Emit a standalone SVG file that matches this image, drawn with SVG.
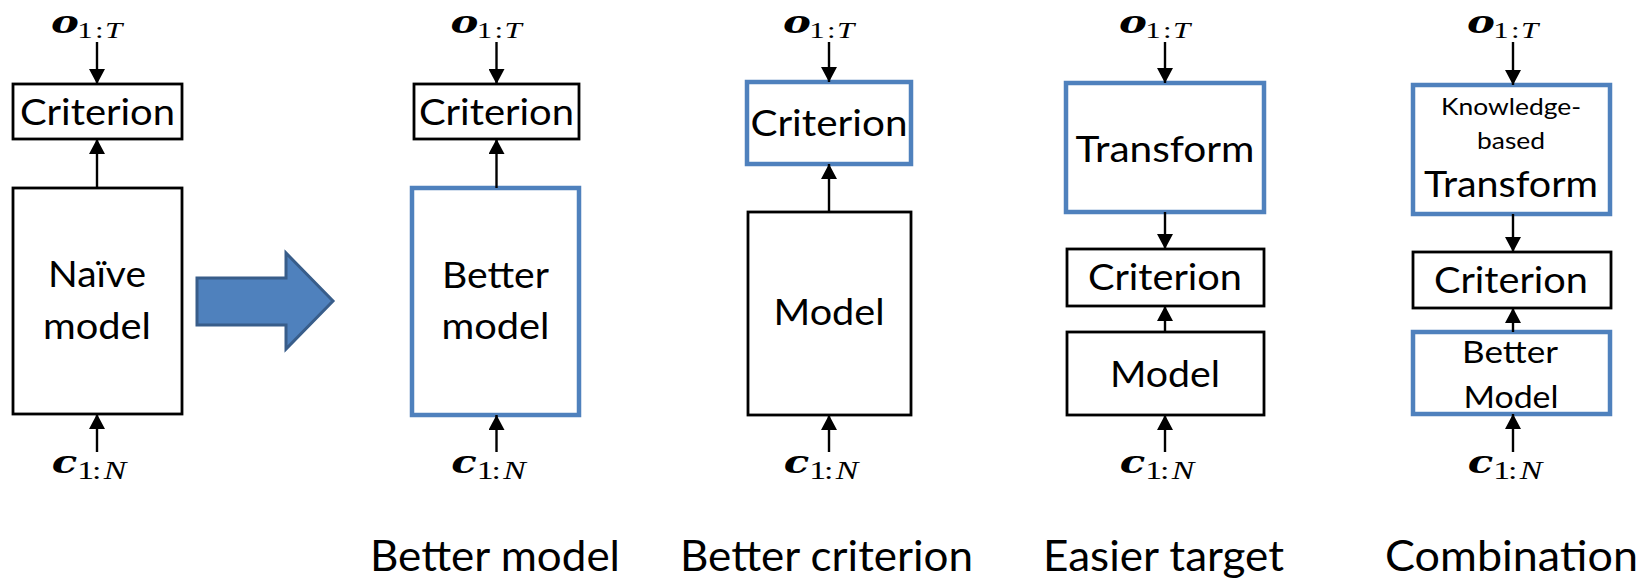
<svg xmlns="http://www.w3.org/2000/svg" width="1651" height="579" viewBox="0 0 1651 579">
  <defs>
    <marker id="head" markerUnits="userSpaceOnUse" markerWidth="15" markerHeight="16" refX="15" refY="8" orient="auto">
      <path d="M0,0 L15,8 L0,16 z" fill="#000"/>
    </marker>
  </defs>
  <style>
    .box { fill: #fff; stroke: #000; stroke-width: 2.8; }
    .bbox { fill: #fff; stroke: #4F81BD; stroke-width: 4.5; }
    .lbl { font-family: Lato, "Liberation Sans", sans-serif; font-size: 36px; text-anchor: middle; fill: #000; }
    .sm { font-size: 23px; }
    .md { font-size: 31px; }
    .cap { font-family: Lato, "Liberation Sans", sans-serif; font-size: 42px; fill: #000; }
    .math { font-family: "Liberation Serif", "Times New Roman", serif; fill: #000; }
    .var { font-family: "DejaVu Serif", "Liberation Serif", serif; font-size: 31px; font-weight: bold; font-style: italic; }
    .sub { font-size: 23px; }
    .subn { font-size: 25px; }
    .it { font-style: italic; }
    .wire { stroke: #000; stroke-width: 2.4; fill: none; marker-end: url(#head); }
  </style>

  <!-- math labels: o_{1:T} above and c_{1:N} below each column -->
  <g id="math">
    <g transform="translate(97 0) scale(1.35 1)">
      <text class="math"><tspan class="var" x="-34" y="33">o</tspan><tspan class="sub" x="-14.6" y="38">1</tspan><tspan class="sub" x="-1.5">:</tspan><tspan class="sub it" x="6">T</tspan></text>
      <text class="math"><tspan class="var" x="-33.5" y="473">c</tspan><tspan class="subn" x="-14.6" y="479">1</tspan><tspan class="subn" x="-3.8">:</tspan><tspan class="subn it" x="5">N</tspan></text>
    </g>
    <g transform="translate(496.5 0) scale(1.35 1)">
      <text class="math"><tspan class="var" x="-34" y="33">o</tspan><tspan class="sub" x="-14.6" y="38">1</tspan><tspan class="sub" x="-1.5">:</tspan><tspan class="sub it" x="6">T</tspan></text>
      <text class="math"><tspan class="var" x="-33.5" y="473">c</tspan><tspan class="subn" x="-14.6" y="479">1</tspan><tspan class="subn" x="-3.8">:</tspan><tspan class="subn it" x="5">N</tspan></text>
    </g>
    <g transform="translate(829 0) scale(1.35 1)">
      <text class="math"><tspan class="var" x="-34" y="33">o</tspan><tspan class="sub" x="-14.6" y="38">1</tspan><tspan class="sub" x="-1.5">:</tspan><tspan class="sub it" x="6">T</tspan></text>
      <text class="math"><tspan class="var" x="-33.5" y="473">c</tspan><tspan class="subn" x="-14.6" y="479">1</tspan><tspan class="subn" x="-3.8">:</tspan><tspan class="subn it" x="5">N</tspan></text>
    </g>
    <g transform="translate(1165 0) scale(1.35 1)">
      <text class="math"><tspan class="var" x="-34" y="33">o</tspan><tspan class="sub" x="-14.6" y="38">1</tspan><tspan class="sub" x="-1.5">:</tspan><tspan class="sub it" x="6">T</tspan></text>
      <text class="math"><tspan class="var" x="-33.5" y="473">c</tspan><tspan class="subn" x="-14.6" y="479">1</tspan><tspan class="subn" x="-3.8">:</tspan><tspan class="subn it" x="5">N</tspan></text>
    </g>
    <g transform="translate(1513 0) scale(1.35 1)">
      <text class="math"><tspan class="var" x="-34" y="33">o</tspan><tspan class="sub" x="-14.6" y="38">1</tspan><tspan class="sub" x="-1.5">:</tspan><tspan class="sub it" x="6">T</tspan></text>
      <text class="math"><tspan class="var" x="-33.5" y="473">c</tspan><tspan class="subn" x="-14.6" y="479">1</tspan><tspan class="subn" x="-3.8">:</tspan><tspan class="subn it" x="5">N</tspan></text>
    </g>
  </g>

  <!-- column 1: naive setup -->
  <g id="crit1">
    <rect class="box" x="13" y="84" width="169" height="55"/>
    <text class="lbl" x="97.5" y="125" textLength="155" lengthAdjust="spacingAndGlyphs">Criterion</text>
  </g>
  <g id="model1">
    <rect class="box" x="13" y="188" width="169" height="226"/>
    <text class="lbl" x="97" y="287" textLength="98" lengthAdjust="spacingAndGlyphs">Naïve</text>
    <text class="lbl" x="97" y="339" textLength="108" lengthAdjust="spacingAndGlyphs">model</text>
  </g>

  <!-- big block arrow between column 1 and column 2 -->
  <g id="bigArrow">
    <path d="M197,278 L286,278 L286,253 L333,301 L286,349 L286,325 L197,325 z" fill="#4F81BD" stroke="#385D8A" stroke-width="3" stroke-linejoin="miter"/>
  </g>

  <!-- column 2: better model -->
  <g id="crit2">
    <rect class="box" x="414" y="84" width="165" height="55"/>
    <text class="lbl" x="496.5" y="125" textLength="155" lengthAdjust="spacingAndGlyphs">Criterion</text>
  </g>
  <g id="model2">
    <rect class="bbox" x="412" y="188" width="167" height="227"/>
    <text class="lbl" x="495.5" y="288" textLength="107" lengthAdjust="spacingAndGlyphs">Better</text>
    <text class="lbl" x="495.5" y="339" textLength="108" lengthAdjust="spacingAndGlyphs">model</text>
  </g>

  <!-- column 3: better criterion -->
  <g id="crit3">
    <rect class="bbox" x="747" y="82" width="164" height="82"/>
    <text class="lbl" x="829" y="136" textLength="157" lengthAdjust="spacingAndGlyphs">Criterion</text>
  </g>
  <g id="model3">
    <rect class="box" x="748" y="212" width="163" height="203"/>
    <text class="lbl" x="829" y="325" textLength="111" lengthAdjust="spacingAndGlyphs">Model</text>
  </g>

  <!-- column 4: easier target -->
  <g id="transform4">
    <rect class="bbox" x="1066" y="83" width="198" height="129"/>
    <text class="lbl" x="1165" y="162" textLength="179" lengthAdjust="spacingAndGlyphs">Transform</text>
  </g>
  <g id="crit4">
    <rect class="box" x="1067" y="249" width="197" height="57"/>
    <text class="lbl" x="1165" y="290" textLength="154" lengthAdjust="spacingAndGlyphs">Criterion</text>
  </g>
  <g id="model4">
    <rect class="box" x="1067" y="332" width="197" height="83"/>
    <text class="lbl" x="1165" y="387" textLength="110" lengthAdjust="spacingAndGlyphs">Model</text>
  </g>

  <!-- column 5: combination -->
  <g id="transform5">
    <rect class="bbox" x="1413" y="85" width="197" height="129"/>
    <text class="lbl sm" x="1511" y="115" textLength="140" lengthAdjust="spacingAndGlyphs">Knowledge-</text>
    <text class="lbl sm" x="1511" y="149" textLength="68" lengthAdjust="spacingAndGlyphs">based</text>
    <text class="lbl" x="1511" y="197" textLength="174" lengthAdjust="spacingAndGlyphs">Transform</text>
  </g>
  <g id="crit5">
    <rect class="box" x="1413" y="252" width="198" height="56"/>
    <text class="lbl" x="1511" y="293" textLength="154" lengthAdjust="spacingAndGlyphs">Criterion</text>
  </g>
  <g id="model5">
    <rect class="bbox" x="1413" y="332" width="197" height="82"/>
    <text class="lbl md" x="1510" y="363" textLength="96" lengthAdjust="spacingAndGlyphs">Better</text>
    <text class="lbl md" x="1511" y="408" textLength="95" lengthAdjust="spacingAndGlyphs">Model</text>
  </g>

  <!-- arrows -->
  <g id="connectors">
    <line class="wire" x1="97" y1="42" x2="97" y2="84"/>
    <line class="wire" x1="97" y1="188" x2="97" y2="139"/>
    <line class="wire" x1="97" y1="452" x2="97" y2="414"/>

    <line class="wire" x1="496.5" y1="42" x2="496.5" y2="84"/>
    <line class="wire" x1="496.5" y1="188" x2="496.5" y2="139"/>
    <line class="wire" x1="496.5" y1="452" x2="496.5" y2="415"/>

    <line class="wire" x1="829" y1="42" x2="829" y2="82"/>
    <line class="wire" x1="829" y1="212" x2="829" y2="164"/>
    <line class="wire" x1="829" y1="452" x2="829" y2="415"/>

    <line class="wire" x1="1165" y1="42" x2="1165" y2="83"/>
    <line class="wire" x1="1165" y1="212" x2="1165" y2="249"/>
    <line class="wire" x1="1165" y1="332" x2="1165" y2="306"/>
    <line class="wire" x1="1165" y1="452" x2="1165" y2="415"/>

    <line class="wire" x1="1513" y1="42" x2="1513" y2="85"/>
    <line class="wire" x1="1513" y1="214" x2="1513" y2="252"/>
    <line class="wire" x1="1513" y1="332" x2="1513" y2="308"/>
    <line class="wire" x1="1513" y1="452" x2="1513" y2="414"/>
  </g>

  <!-- captions -->
  <g id="captions">
    <text class="cap" x="370" y="571" textLength="250" lengthAdjust="spacingAndGlyphs">Better model</text>
    <text class="cap" x="680" y="571" textLength="293" lengthAdjust="spacingAndGlyphs">Better criterion</text>
    <text class="cap" x="1043" y="571" textLength="241" lengthAdjust="spacingAndGlyphs">Easier target</text>
    <text class="cap" x="1385" y="571" textLength="253" lengthAdjust="spacingAndGlyphs">Combination</text>
  </g>
</svg>
